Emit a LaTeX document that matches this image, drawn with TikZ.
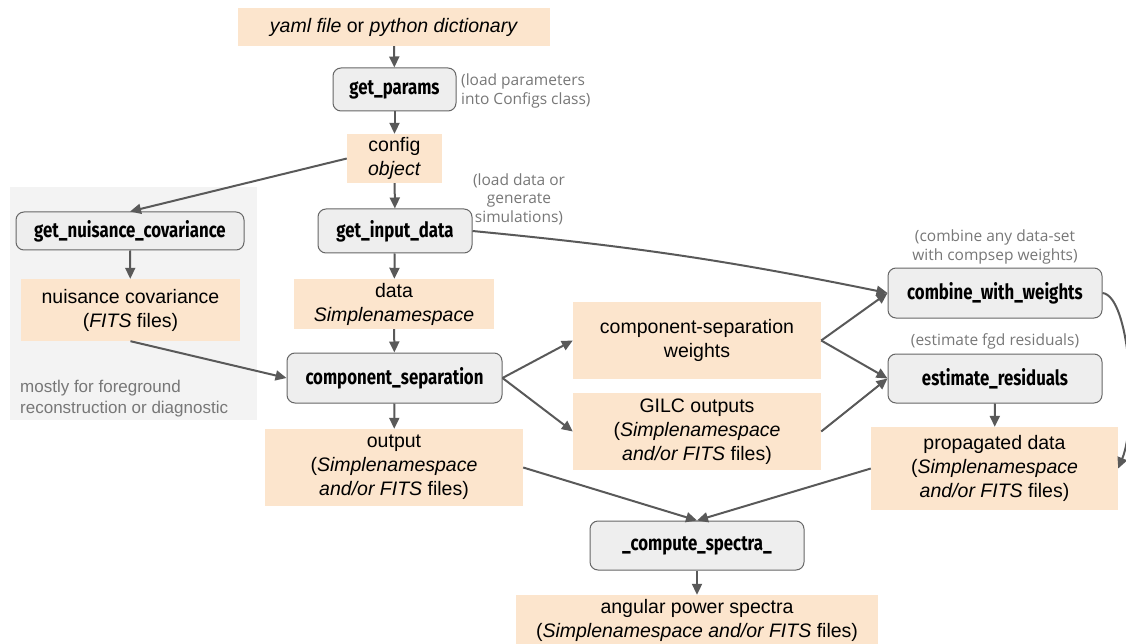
\documentclass[tikz,border=0pt]{standalone}
\usepackage{fontspec}
\setmainfont{Liberation Sans}
\newfontfamily\fnfont[FakeStretch=0.8]{Fira Sans}
\newfontfamily\annfont{Open Sans}
\usetikzlibrary{arrows.meta}
\definecolor{boxor}{HTML}{FCE5CD}
\definecolor{fnfill}{HTML}{EEEEEE}
\definecolor{fnline}{HTML}{666666}
\definecolor{arr}{HTML}{595959}
\definecolor{anntxt}{HTML}{777777}
\definecolor{panel}{HTML}{F3F3F3}
\tikzset{
  databox/.style={fill=boxor, draw=none, inner sep=0pt, align=center,
    font=\fontsize{19.5}{24}\selectfont},
  fnbox/.style={fill=fnfill, draw=fnline, line width=1pt, rounded corners=8pt,
    inner sep=0pt, align=center, font=\fnfont\bfseries\fontsize{21}{24}\selectfont},
  ann/.style={text=anntxt, inner sep=0pt, font=\annfont\fontsize{15.5}{18.5}\selectfont},
  flow/.style={draw=arr, line width=2pt, -{Triangle[length=11pt,width=10pt]}},
}
\begin{document}
\begin{tikzpicture}[x=1pt,y=-1pt]
\useasboundingbox (0,0) rectangle (1126,644);
% panel
\fill[panel] (10,187) rectangle (257,420);
% nodes
\node[databox, minimum width=312pt, minimum height=38pt] (yaml) at (394,27)
  {\textit{yaml file} or \textit{python dictionary}};
\node[fnbox, minimum width=123pt, minimum height=43pt] (gp) at (394.5,89.5) {get\_params};
\node[ann, anchor=west, align=left] (gpann) at (461,91) {(load parameters\\into Configs class)};
\node[databox, minimum width=95pt, minimum height=49pt] (cfg) at (394.5,158.5) {config\\\textit{object}};
\node[ann, align=center] (gidann) at (519,199) {(load data or\\generate\\simulations)};
\node[fnbox, minimum width=154pt, minimum height=44pt] (gid) at (395,231) {get\_input\_data};
\node[databox, minimum width=200pt, minimum height=50pt] (data) at (394,304) {data\\\textit{Simplenamespace}};
\node[fnbox, minimum width=215pt, minimum height=50pt] (cs) at (394.5,378) {component\_separation};
\node[databox, minimum width=258pt, minimum height=77pt] (out) at (394,467.5)
  {output\\(\textit{Simplenamespace}\\\textit{and/or FITS} files)};
\node[fnbox, minimum width=228pt, minimum height=38pt] (gnc) at (130,231) {get\_nuisance\_covariance};
\node[databox, minimum width=219pt, minimum height=62pt] (nc) at (130.5,310)
  {nuisance covariance\\(\textit{FITS} files)};
\node[text=anntxt, inner sep=0pt, anchor=north west, align=left, font=\fontsize{17}{21}\selectfont] (most) at (20,380)
  {mostly for foreground\\reconstruction or diagnostic};
\node[databox, minimum width=248pt, minimum height=77pt] (wts) at (697,340.5)
  {component-separation\\weights};
\node[databox, minimum width=248pt, minimum height=77pt] (gilc) at (697,431.5)
  {GILC outputs\\(\textit{Simplenamespace}\\\textit{and/or FITS} files)};
\node[ann, align=center] (cwann) at (995,247) {(combine any data-set\\with compsep weights)};
\node[fnbox, minimum width=214pt, minimum height=50pt] (cw) at (995,293) {combine\_with\_weights};
\node[ann, align=center] (erann) at (995,341) {(estimate fgd residuals)};
\node[fnbox, minimum width=214pt, minimum height=49pt] (er) at (995,378.5) {estimate\_residuals};
\node[databox, minimum width=247pt, minimum height=83pt] (prop) at (994.5,468.5)
  {propagated data\\(\textit{Simplenamespace}\\\textit{and/or FITS} files)};
\node[fnbox, minimum width=214pt, minimum height=49pt] (cmp) at (697,545.5) {\_compute\_spectra\_};
\node[databox, minimum width=362pt, minimum height=50pt] (aps) at (697,620)
  {angular power spectra\\(\textit{Simplenamespace and/or FITS} files)};
% connectors
\draw[flow] (yaml) -- (gp);
\draw[flow] (gp) -- (cfg);
\draw[flow] (cfg) -- (gid);
\draw[flow] (gid) -- (data);
\draw[flow] (data) -- (cs);
\draw[flow] (cs) -- (out);
\draw[flow] (cfg.west) -- (gnc.north);
\draw[flow] (gnc) -- (nc);
\draw[flow] (nc.south) -- (cs.west);
\draw[flow] (gid.east) to[bend left=3] (cw.west);
\draw[flow] (cs.east) -- (wts.west);
\draw[flow] (cs.east) -- (gilc.west);
\draw[flow] (wts.east) -- (cw.west);
\draw[flow] (wts.east) -- (er.west);
\draw[flow] (gilc.east) -- (er.west);
\draw[flow] (er) -- (prop);
\draw[flow] (cw.east) .. controls (1130,296) and (1138,420) .. (prop.east);
\draw[flow] (out.east) -- (cmp.north);
\draw[flow] (prop.west) -- (cmp.north);
\draw[flow] (cmp) -- (aps);
\end{tikzpicture}
\end{document}
